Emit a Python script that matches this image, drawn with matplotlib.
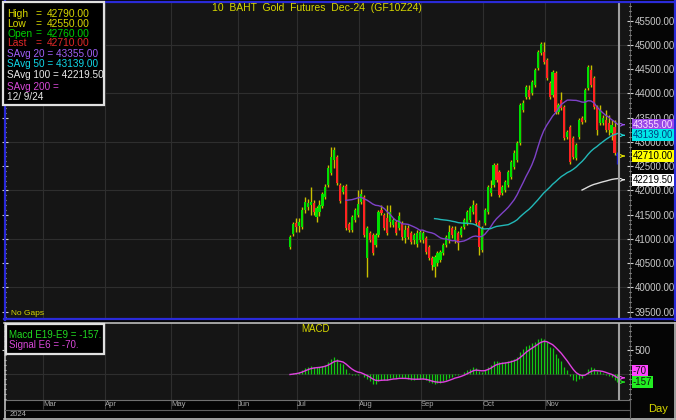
import numpy as np
import pandas as pd
import matplotlib
matplotlib.use('Agg')
import matplotlib.pyplot as plt
from matplotlib.ticker import MultipleLocator, FixedLocator, FuncFormatter
from matplotlib.lines import Line2D
from matplotlib.patches import Rectangle

plt.rcParams['font.family'] = ['Liberation Sans', 'DejaVu Sans']

# ---------------- data ----------------
title = "10  BAHT  Gold  Futures  Dec-24  (GF10Z24)"

opens = [40830, 41100, 41330, 41270, 41250, 41600, 41660, 41700, 41740, 41450,
         41560, 41680, 41870, 42110, 42360, 42630, 42690, 42110, 41970, 42090,
         41310, 41180, 41390, 41490, 41760, 41860, 40610, 41120, 41080, 40880,
         41080, 41600, 41490, 41430, 41350, 41290, 41350, 41230, 41330, 41020,
         41230, 41120, 40980, 40900, 40980, 40980, 41020, 40830, 40610, 40420,
         40500, 40570, 40710, 40870, 40980, 41230, 40980, 41120, 41080, 41250,
         41330, 41390, 41560, 41700, 41350, 40770, 41330, 41560, 41950, 42110,
         42530, 42380, 41950, 42010, 42110, 42280, 42480, 42630, 42980, 43660,
         43930, 44070, 44010, 44170, 44530, 44830, 44850, 44690, 44220, 43970,
         44420, 43620, 43860, 43720, 43100, 43310, 43080, 42670, 43100, 43490,
         43450, 44110, 44480, 44320, 43720, 43390, 43390, 43450, 43390, 43180,
         43310, 42760]
highs = [41080, 41350, 41430, 41430, 41660, 41870, 41820, 42070, 41800, 41680,
         41800, 41970, 42130, 42520, 42900, 42900, 42730, 42150, 42110, 42130,
         41350, 41490, 41640, 42010, 42030, 41900, 41270, 41160, 41120, 41120,
         41600, 41700, 41540, 41700, 41700, 41430, 41390, 41560, 41370, 41290,
         41290, 41160, 41120, 41180, 41180, 41160, 41060, 40880, 40650, 40670,
         40750, 40770, 40920, 41080, 41290, 41270, 41270, 41160, 41270, 41430,
         41600, 41680, 41800, 41740, 41390, 41270, 41640, 42110, 42220, 42570,
         42570, 42420, 42110, 42220, 42420, 42630, 42830, 43020, 43800, 43860,
         44170, 44170, 44280, 44530, 44900, 45060, 45060, 44730, 44260, 44480,
         44460, 43800, 44030, 43760, 43250, 43350, 43120, 42980, 43490, 43530,
         44110, 44590, 44590, 44360, 43760, 43760, 43560, 43660, 43560, 43450,
         43450, 42790]
lows = [40790, 41060, 41140, 41140, 41210, 41540, 41600, 41490, 41490, 41350,
        41470, 41640, 41820, 42070, 42320, 42460, 42110, 41740, 41930, 41180,
        41140, 41140, 41350, 41450, 41720, 41040, 40220, 40940, 40670, 40830,
        41040, 41490, 41180, 41080, 41250, 41250, 41080, 41180, 40980, 40920,
        41000, 40900, 40900, 40830, 40940, 40920, 40690, 40570, 40360, 40220,
        40440, 40520, 40670, 40830, 40920, 41020, 40920, 40770, 41040, 41210,
        41290, 41350, 41510, 41290, 40670, 40730, 41290, 41510, 41890, 42070,
        42170, 41870, 41910, 41970, 42070, 42240, 42440, 42590, 42940, 43620,
        43880, 43880, 43970, 44130, 44480, 44790, 44610, 44280, 43880, 43930,
        43580, 43580, 43660, 43040, 43060, 42540, 42650, 42630, 43060, 43370,
        43410, 44070, 44130, 43680, 43140, 43350, 43350, 43210, 43140, 43040,
        42730, 42550]
closes = [41040, 41310, 41250, 41350, 41600, 41760, 41740, 41760, 41560, 41640,
          41700, 41930, 42070, 42460, 42690, 42830, 42150, 41780, 42070, 41230,
          41180, 41450, 41600, 41720, 41930, 41080, 41230, 40980, 40710, 41080,
          41560, 41530, 41230, 41120, 41560, 41390, 41120, 41470, 41040, 41180,
          41040, 40940, 41080, 41120, 41140, 41120, 40730, 40610, 40460, 40630,
          40710, 40730, 40870, 41040, 41140, 41080, 41180, 40920, 41230, 41390,
          41560, 41640, 41700, 41330, 40830, 41230, 41600, 42070, 42050, 42530,
          42220, 41910, 42070, 42170, 42380, 42590, 42770, 42980, 43760, 43800,
          44130, 43930, 44240, 44480, 44850, 45020, 44650, 44320, 43930, 44440,
          43620, 43760, 43700, 43080, 43210, 42590, 42690, 42940, 43450, 43410,
          44070, 44550, 44170, 43720, 43250, 43660, 43490, 43250, 43250, 43350,
          42770, 42710]

month_labels = ['Mar', 'Apr', 'May', 'Jun', 'Jul', 'Aug', 'Sep', 'Oct', 'Nov']
month_pos = [-82.7, -61.7, -39.2, -16.7, 3.4, 24.3, 45.4, 66.4, 87.4]  # trading-day index

sma_periods = [20, 50, 100]
sma_names = ['SAvg 20', 'SAvg 50', 'SAvg 100', 'SAvg 200']
sma_last = [43355.00, 43139.00, 42219.50]
macd_last = -157
signal_last = -70
last_date = "12/ 9/24"
year_label = "2024"

# ---------------- styling ----------------
W, H = 676, 420
def fx(px):
    return px / W
def fy(py):
    return 1 - py / H

BG = '#151515'
FIG_BG = '#050505'
GRID = '#2e2e2e'
YEL = '#d8d800'
GREEN = '#00e000'
RED = '#ff2222'
WICK = '#c8c000'
PURPLE = '#7e42c8'
CYAN = '#22b8b8'
WHITE_MA = '#dcdcdc'
MAGENTA = '#e040e0'
AXTXT = '#c8c8c8'

fig = plt.figure(figsize=(W / 100, H / 100), dpi=100, facecolor=FIG_BG)

x = np.arange(1, len(closes) + 1)
o = np.array(opens, float); h = np.array(highs, float)
l = np.array(lows, float); c = np.array(closes, float)

# ---------------- main price panel ----------------
ax = fig.add_axes([fx(5), fy(319), (630 - 5) / W, (319 - 2) / H])
ax.set_facecolor(BG)
ax.set_xlim(-95.6, 116.25)
ax.set_ylim(39349, 45886)
for s in ['left', 'top', 'bottom']:
    ax.spines[s].set_visible(False)
ax.spines['right'].set_color('#707070')
ax.spines['right'].set_linewidth(0.6)

ax.yaxis.set_major_locator(MultipleLocator(500))
ax.yaxis.set_minor_locator(MultipleLocator(100))
ax.yaxis.set_major_formatter(FuncFormatter(lambda v, p: f"{v:.2f}"))
ax.tick_params(axis='y', which='major', direction='inout', length=5, width=0.8,
               color='#d0d0d0', labelsize=7, labelcolor=AXTXT, left=True,
               right=True, labelleft=False, labelright=True, pad=1)
ax.tick_params(axis='y', which='minor', direction='inout', length=2, width=0.8,
               color='#d0d0d0', left=True, right=True)
ax.tick_params(axis='x', which='both', bottom=False, labelbottom=False)

for gy in range(40000, 46000, 1000):
    ax.axhline(gy, color=GRID, lw=0.8, zorder=0)
for mp in month_pos:
    ax.axvline(mp, color=GRID, lw=0.8, zorder=0)

# candles
body_col = [GREEN if cc >= oo else RED for oo, cc in zip(o, c)]
wick_col = [WICK] * len(c)
body_col[-1] = '#1a1ac8'
wick_col[-1] = '#1a1ac8'
ax.vlines(x, l, h, colors=wick_col, lw=1.0, zorder=2)
bottom = np.minimum(o, c)
height = np.maximum(np.abs(c - o), 25)
ax.bar(x, height, bottom=bottom, width=0.72, color=body_col, lw=0, zorder=3)

# simple averages
cs = pd.Series(c)
for per, col in zip(sma_periods, [PURPLE, CYAN, WHITE_MA]):
    ax.plot(x, cs.rolling(per).mean(), color=col, lw=1.0, zorder=4)

ax.axvline(112.45, color='#a0a0a0', lw=1.5, zorder=5)

# right-edge arrows + value boxes
marker_vals = [sma_last[0], sma_last[1], closes[-1], sma_last[2]]
marker_cols = ['#9a50f0', '#20d8d8', '#f0f000', '#f0f0f0']
box_fc = ['#9848e8', '#00e8e8', '#ffff00', '#ffffff']
box_tc = ['#ffe0ff', '#003c80', '#000000', '#000000']
for v, mc, fc, tc in zip(marker_vals, marker_cols, box_fc, box_tc):
    ax.annotate('', xy=(115.3, v), xytext=(113.3, v),
                arrowprops=dict(arrowstyle='->', color=mc, lw=0.8,
                                mutation_scale=5), annotation_clip=False)
    fig.text(fx(633), fy(20.7 + (45500 - v) * 0.0485), f"{v:.2f}", fontsize=7,
             color=tc, va='center', ha='left', zorder=10,
             bbox=dict(boxstyle='square,pad=0.08', fc=fc, ec='none'))

# ---------------- MACD panel ----------------
ema_fast = cs.ewm(span=9, adjust=False).mean()
ema_slow = cs.ewm(span=19, adjust=False).mean()
macd = ema_fast - ema_slow
signal = macd.ewm(span=6, adjust=False).mean()

ax2 = fig.add_axes([fx(5), fy(400), (630 - 5) / W, (400 - 323) / H])
ax2.set_facecolor(BG)
ax2.set_xlim(-95.6, 116.25)
ax2.set_ylim(-530, 1070)
for s in ['left', 'top']:
    ax2.spines[s].set_visible(False)
ax2.spines['right'].set_color('#707070')
ax2.spines['right'].set_linewidth(0.6)
ax2.spines['bottom'].set_color('#707070')
ax2.spines['bottom'].set_linewidth(0.8)
for mp in month_pos:
    ax2.axvline(mp, color=GRID, lw=0.8, zorder=0)
ax2.axhline(0, color=GRID, lw=0.8, zorder=0)
ax2.vlines(x, 0, macd, colors='#12c812', lw=0.9, zorder=2)
ax2.plot(x, signal, color=MAGENTA, lw=1.0, zorder=3)
ax2.axvline(112.45, color='#a0a0a0', lw=1.5, zorder=5)

ax2.yaxis.set_major_locator(FixedLocator([500]))
ax2.yaxis.set_minor_locator(MultipleLocator(100))
ax2.tick_params(axis='y', which='major', direction='inout', length=5, width=0.8,
                color='#d0d0d0', labelsize=7, labelcolor=AXTXT, left=True,
                right=True, labelleft=False, labelright=True, pad=1)
ax2.tick_params(axis='y', which='minor', direction='inout', length=2, width=0.8,
                color='#d0d0d0', left=True, right=True)
ax2.set_xticks(month_pos)
ax2.set_xticklabels(month_labels)
ax2.tick_params(axis='x', direction='out', length=6.5, width=0.8, color='#3a3a3a',
                labelsize=5.5, labelcolor='#a8a8a8', pad=-5.6)
for lbl in ax2.get_xticklabels():
    lbl.set_ha('left')

# MACD right labels
for v, fc, txt_y in [(signal_last, '#ff44ff', 370.5), (macd_last, '#22ee22', 382)]:
    fig.text(fx(633), fy(txt_y), f"{v}", fontsize=7, color='#101010', va='center',
             ha='left', bbox=dict(boxstyle='square,pad=0.1', fc=fc, ec='none'))
ax2.annotate('', xy=(115.3, macd_last), xytext=(113.3, macd_last),
             arrowprops=dict(arrowstyle='->', color='#22ee22', lw=0.8, mutation_scale=5),
             annotation_clip=False)
ax2.annotate('', xy=(115.3, signal_last), xytext=(113.3, signal_last),
             arrowprops=dict(arrowstyle='->', color='#ff44ff', lw=0.8, mutation_scale=5),
             annotation_clip=False)

# ---------------- frames ----------------
def fline(x0, y0, x1, y1, col, lw):
    fig.add_artist(Line2D([fx(x0), fx(x1)], [fy(y0), fy(y1)], color=col, lw=lw))

fline(4, 1.5, 674, 1.5, '#2a2ad8', 1.6)
fline(4.5, 1, 4.5, 319.5, '#2a2ad8', 1.6)
fline(674.5, 1, 674.5, 319.5, '#2a2ad8', 1.6)
fline(4, 319.3, 675, 319.3, '#2a2ad8', 1.6)
fline(4, 322.5, 675, 322.5, '#bcbcbc', 1.2)
fline(4.5, 322.5, 4.5, 418.5, '#bcbcbc', 1.2)
fline(674.5, 322.5, 674.5, 418.5, '#bcbcbc', 1.2)
fline(4, 418.5, 675, 418.5, '#bcbcbc', 1.2)
fline(5, 409.5, 630, 409.5, '#606060', 0.8)
fline(630, 400, 630, 418, '#606060', 0.8)

# ---------------- texts ----------------
fig.text(fx(317), fy(8), title, color=YEL, fontsize=7.5, ha='center', va='center')
fig.text(fx(316), fy(329), 'MACD', color=YEL, fontsize=7, ha='center', va='center')
fig.text(fx(11), fy(313.5), 'No Gaps', color=YEL, fontsize=6, ha='left', va='center')
fig.text(fx(10), fy(414), year_label, color='#b0b0b0', fontsize=5.5, ha='left', va='center')
fig.text(fx(648), fy(409), 'Day', color=YEL, fontsize=8, ha='left', va='center')

# stats legend
fig.add_artist(Rectangle((fx(2.5), fy(104.5)), 101 / W, 102 / H, transform=fig.transFigure,
                         fc='#000000', ec='#e0e0e0', lw=1.6, zorder=8))
stats = [('High', highs[-1], YEL), ('Low', lows[-1], YEL),
         ('Open', opens[-1], '#00d000'), ('Last', closes[-1], '#e02828')]
yy = 14
for name, val, col in stats:
    fig.text(fx(7), fy(yy), name, color=col, fontsize=7.4, va='center', zorder=9)
    fig.text(fx(36), fy(yy), '=', color=col, fontsize=7.4, va='center', zorder=9)
    fig.text(fx(46.5), fy(yy), f"{val:.2f}", color=col, fontsize=7.4, va='center', zorder=9)
    yy += 9.8
sma_txt_cols = ['#a060f8', '#10d8e8', '#e8e8e8', '#d848d8']
sma_y = [54.3, 64.3, 75, 86.7]
for i, (nm, col) in enumerate(zip(sma_names, sma_txt_cols)):
    val = f" {sma_last[i]:.2f}" if i < len(sma_last) else ""
    fig.text(fx(7), fy(sma_y[i]), f"{nm} ={val}", color=col, fontsize=7.2,
             va='center', zorder=9)
fig.text(fx(7), fy(97.3), last_date, color='#e8e8e8', fontsize=7.2, va='center', zorder=9)

# MACD legend
fig.add_artist(Rectangle((fx(5.5), fy(354)), 99 / W, 30 / H, transform=fig.transFigure,
                         fc='#000000', ec='#e0e0e0', lw=1.6, zorder=8))
fig.text(fx(9), fy(335), f"Macd E19-E9 = {macd_last}.", color='#20d820', fontsize=7,
         va='center', zorder=9)
fig.text(fx(9), fy(345), f"Signal E6 = {signal_last}.", color='#d848d8', fontsize=7,
         va='center', zorder=9)

fig.savefig('out.png', dpi=100, facecolor=FIG_BG)
